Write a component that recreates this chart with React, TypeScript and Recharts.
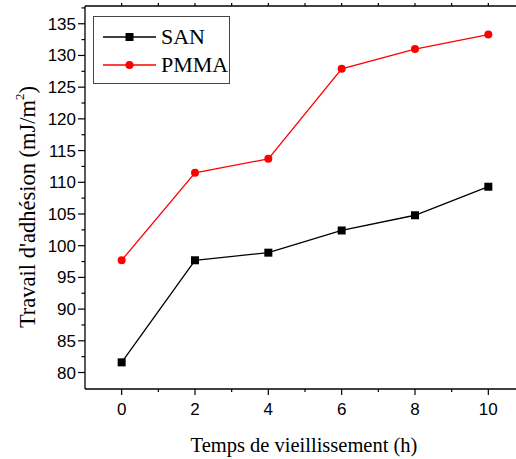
import React from "react";
import { LineChart, Line, XAxis, YAxis } from "recharts";

// aging time (h)
const hours = [0, 2, 4, 6, 8, 10];
// work of adhesion (mJ/m²)
const sanValues = [81.6, 97.7, 98.9, 102.4, 104.8, 109.3];
const pmmaValues = [97.7, 111.5, 113.7, 127.9, 131.0, 133.3];

const xTicks = [0, 1, 2, 3, 4, 5, 6, 7, 8, 9, 10];
const xLabels = [0, 2, 4, 6, 8, 10];
const yTicks = [
  80, 82.5, 85, 87.5, 90, 92.5, 95, 97.5, 100, 102.5, 105, 107.5, 110, 112.5,
  115, 117.5, 120, 122.5, 125, 127.5, 130, 132.5, 135, 137.5,
];
const yLabels = [80, 85, 90, 95, 100, 105, 110, 115, 120, 125, 130, 135];

const rows = hours.map((t, i) => ({ t, san: sanValues[i], pmma: pmmaValues[i] }));

const SANS = "'Liberation Sans', Arial, sans-serif";
const SERIF = "'Liberation Serif', 'Times New Roman', serif";

function BottomTick({ x, y, payload }: any) {
  const major = xLabels.includes(payload.value);
  return (
    <g>
      <line x1={x} x2={x} y1={y} y2={y + (major ? 6 : 3)} stroke="#000" strokeWidth={1.2} />
      {major && (
        <text x={x} y={y + 26} textAnchor="middle" fontFamily={SANS} fontSize={17} fill="#000">
          {payload.value}
        </text>
      )}
    </g>
  );
}

function TopTick({ x, y }: any) {
  return <line x1={x} x2={x} y1={y} y2={y - 3} stroke="#000" strokeWidth={1.2} />;
}

function LeftTick({ x, y, payload }: any) {
  const major = yLabels.includes(payload.value);
  return (
    <g>
      <line x1={x} x2={x - (major ? 7 : 3.5)} y1={y} y2={y} stroke="#000" strokeWidth={1.2} />
      {major && (
        <text x={x - 9} y={y + 6} textAnchor="end" fontFamily={SANS} fontSize={17} fill="#000">
          {payload.value}
        </text>
      )}
    </g>
  );
}

function SquareDot({ cx, cy }: any) {
  return <rect x={cx - 4} y={cy - 4} width={8} height={8} fill="#000" />;
}

function LegendBox() {
  const item = (name: string, color: string, square: boolean) => (
    <div style={{ display: "flex", alignItems: "center", height: 28 }}>
      <svg width={56} height={12} style={{ marginLeft: 9 }}>
        <line x1={0} x2={53} y1={6} y2={6} stroke={color} strokeWidth={1.3} />
        {square ? (
          <rect x={22.5} y={2} width={8} height={8} fill={color} />
        ) : (
          <circle cx={26.5} cy={6} r={4} fill={color} />
        )}
      </svg>
      <span style={{ fontFamily: SERIF, fontSize: 22, marginLeft: 2, lineHeight: "28px" }}>{name}</span>
    </div>
  );
  return (
    <div
      style={{
        position: "absolute",
        left: 93,
        top: 16,
        width: 137,
        height: 68,
        border: "1px solid #444",
        boxSizing: "border-box",
        paddingTop: 6,
        background: "#fff",
      }}
    >
      {item("SAN", "#000", true)}
      {item("PMMA", "#ff0000", false)}
    </div>
  );
}

export default function App() {
  return (
    <div style={{ position: "absolute", left: 0, top: 0, width: 516, height: 459, overflow: "hidden", background: "#fff" }}>
      <LineChart width={525} height={459} data={rows} margin={{ top: 0, right: 0, bottom: 0, left: 0 }}>
        <XAxis
          xAxisId="bottom"
          dataKey="t"
          type="number"
          domain={[-1, 11]}
          ticks={xTicks}
          interval={0}
          height={70}
          tickSize={0}
          tickMargin={0}
          tickLine={false}
          tick={<BottomTick />}
          axisLine={{ stroke: "#000", strokeWidth: 1.3 }}
          label={{
            content: () => (
              <text x={304} y={452} textAnchor="middle" fontFamily={SERIF} fontSize={20.5} fill="#000">
                Temps de vieillissement (h)
              </text>
            ),
          }}
        />
        <XAxis
          xAxisId="top"
          orientation="top"
          dataKey="t"
          type="number"
          domain={[-1, 11]}
          ticks={xTicks}
          interval={0}
          height={6}
          tickSize={0}
          tickMargin={0}
          tickLine={false}
          tick={<TopTick />}
          axisLine={{ stroke: "#000", strokeWidth: 1.3 }}
        />
        <YAxis
          yAxisId="left"
          type="number"
          domain={[77.4, 137.8]}
          allowDataOverflow
          ticks={yTicks}
          interval={0}
          width={85}
          tickSize={0}
          tickMargin={0}
          tickLine={false}
          tick={<LeftTick />}
          axisLine={{ stroke: "#000", strokeWidth: 1.3 }}
          label={{
            content: () => (
              <text
                x={27}
                y={207}
                transform="rotate(-90, 27, 207)"
                textAnchor="middle"
                dominantBaseline="central"
                fontFamily={SERIF}
                fontSize={22.5}
                fill="#000"
              >
                Travail d'adhésion (mJ/m
                <tspan dy={-8} fontSize={13}>2</tspan>
                <tspan dy={8}>)</tspan>
              </text>
            ),
          }}
        />
        <Line
          xAxisId="bottom"
          yAxisId="left"
          dataKey="san"
          stroke="#000"
          strokeWidth={1.3}
          dot={<SquareDot />}
          isAnimationActive={false}
        />
        <Line
          xAxisId="bottom"
          yAxisId="left"
          dataKey="pmma"
          stroke="#ff0000"
          strokeWidth={1.3}
          dot={{ r: 4, fill: "#ff0000", stroke: "#ff0000", strokeWidth: 0 }}
          isAnimationActive={false}
        />
      </LineChart>
      <LegendBox />
    </div>
  );
}
